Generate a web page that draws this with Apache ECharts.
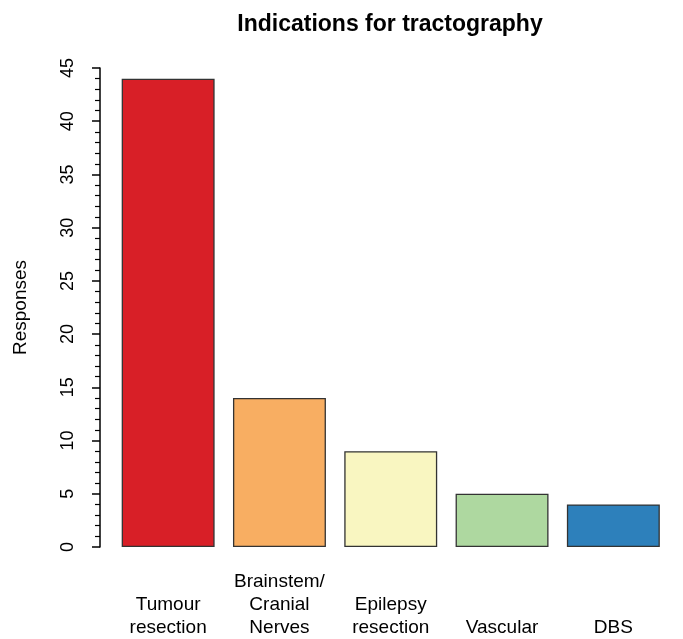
<!DOCTYPE html>
<html><head><meta charset="utf-8">
<script src="https://cdn.jsdelivr.net/npm/echarts@6/dist/echarts.min.js"></script>
<style>html,body{margin:0;padding:0;background:#fff}#c{width:683px;height:639px}</style>
</head><body><div id="c"></div>
<script>
const categories = ["Tumour\nresection", "Brainstem/\nCranial\nNerves", "Epilepsy\nresection", "Vascular", "DBS"];
const responses = [44, 14, 9, 5, 4];
const barColors = ["#D81F27", "#F8AE62", "#F9F6C1", "#AED8A0", "#2D80BB"];
const yTicks = [0, 5, 10, 15, 20, 25, 30, 35, 40, 45];

const chart = echarts.init(document.getElementById('c'), null, {renderer: 'canvas'});
const font = '"Liberation Sans", Arial, sans-serif';
chart.setOption({
  animation: false,
  backgroundColor: '#fff',
  title: {
    text: 'Indications for tractography',
    left: 385, top: 8, textAlign: 'center',
    textStyle: {fontFamily: font, fontWeight: 'bold', fontSize: 23, color: '#000'}
  },
  grid: {left: 112.5, right: 14, top: 68, bottom: 90, containLabel: false},
  xAxis: {
    type: 'category',
    data: categories,
    axisLine: {show: false},
    axisTick: {show: false},
    axisLabel: {
      interval: 0, margin: 23, color: '#000', fontFamily: font, fontSize: 19, lineHeight: 23,
      formatter: function (v) {
        const lines = v.split('\n');
        while (lines.length < 3) lines.unshift('');
        return lines.join('\n');
      }
    }
  },
  yAxis: {
    type: 'value',
    min: yTicks[0], max: yTicks[yTicks.length - 1], interval: 5,
    offset: 12.5,
    name: 'Responses', nameLocation: 'middle', nameGap: 70,
    nameTextStyle: {fontFamily: font, fontSize: 19, color: '#000'},
    axisLine: {show: true, lineStyle: {color: '#000', width: 1.5}},
    axisTick: {show: true, length: 8, lineStyle: {color: '#000', width: 1.5}},
    minorTick: {show: true, splitNumber: 5, length: 5, lineStyle: {color: '#000', width: 1.2}},
    splitLine: {show: false},
    axisLabel: {rotate: 90, margin: 23, color: '#000', fontFamily: font, fontSize: 18}
  },
  series: [{
    type: 'bar',
    data: responses.map((v, i) => ({value: v, itemStyle: {color: barColors[i]}})),
    barCategoryGap: '16.5%',
    itemStyle: {borderColor: '#333', borderWidth: 1.3}
  }]
});
</script></body></html>
